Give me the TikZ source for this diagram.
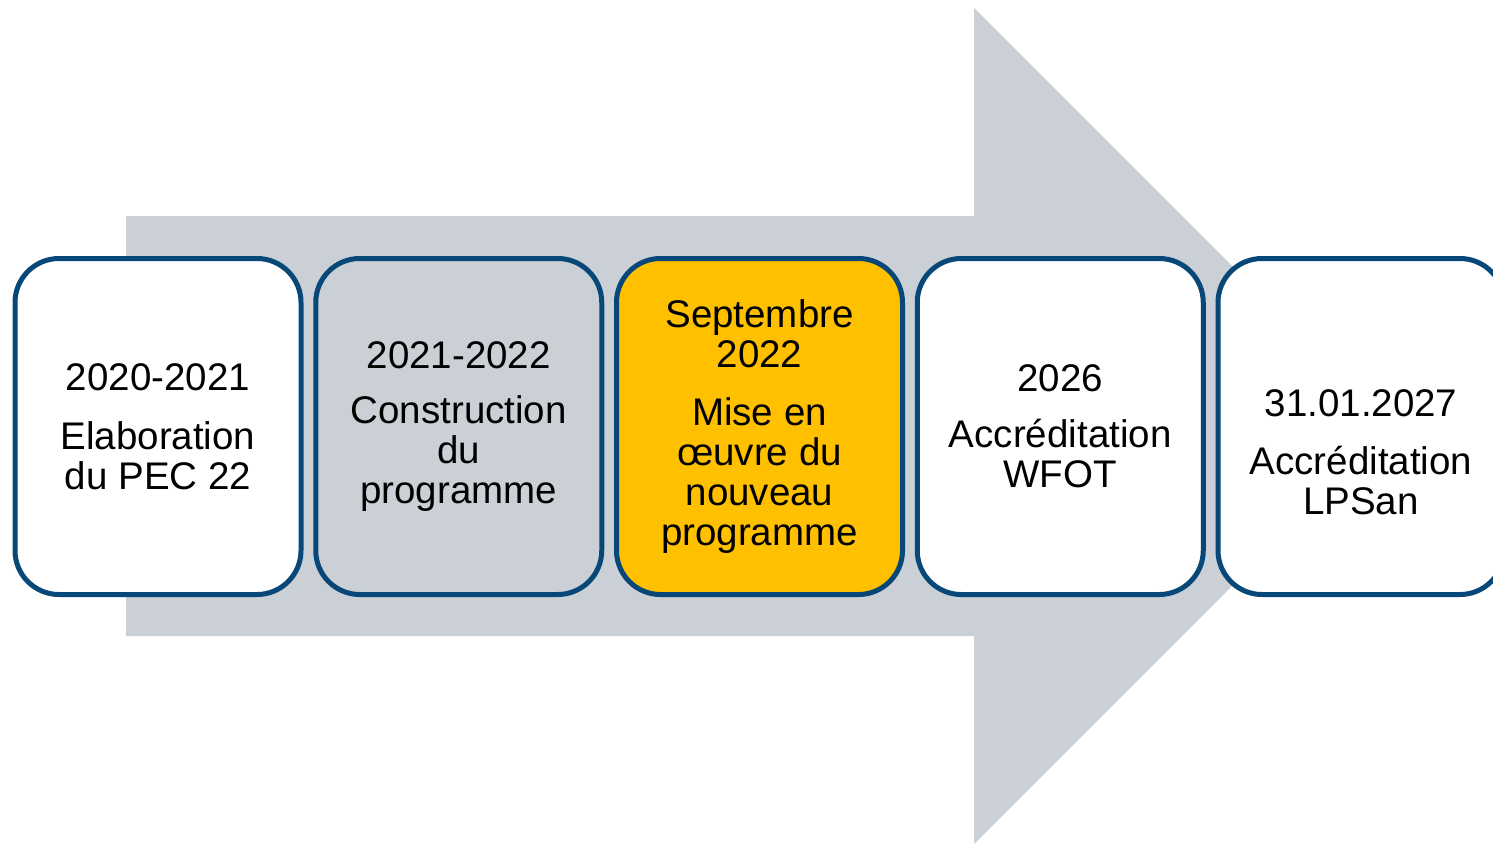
\documentclass[tikz,border=0pt]{standalone}
\usepackage{fontspec}
\setmainfont{Liberation Sans}
\usepackage{xcolor}
\usetikzlibrary{
    positioning
}
\definecolor{arrowgrey}{RGB}{203,207,214}
\definecolor{frameblue}{RGB}{8,72,120}
\definecolor{phaseyellow}{RGB}{255,192,0}

\begin{document}
\begin{tikzpicture}[x=1pt,y=-1pt]
                  \useasboundingbox (0,0) rectangle (1493,844);

                  % Define box and text styles:
                  \tikzset{
                        phase/.style={draw=frameblue, line width=5pt, rounded corners=44pt,
                              minimum width=286pt, minimum height=336pt, inner sep=0pt, outer sep=0pt,
                              fill=white, align=center, font=\fontsize{38.5}{40}\selectfont},
                        phasetext/.style={align=center, inner sep=0pt, font=\fontsize{38.5}{40}\selectfont}
                  };

                  % Big grey arrow running behind the phases
                  \fill[arrowgrey] (126,216) -- (974,216) -- (974,8) -- (1392,426)
                        -- (974,844) -- (974,636) -- (126,636) -- cycle;

                  % Phases of the timeline, from left to right
                  \node[phase] (P_1) at (158,426.5) {2020-2021\\[19pt]Elaboration\\du PEC 22};
                  \node[phase, fill=arrowgrey, right=14.75pt of P_1] (P_2) {2021-2022\\[15pt]Construction\\du\\programme};
                  \node[phase, fill=phaseyellow, right=14.75pt of P_2] (P_3) {Septembre\\2022\\[18pt]Mise en\\\oe uvre du\\nouveau\\programme};
                  \node[phase, right=14.75pt of P_3] (P_4) {2026\\[16pt]Accréditation\\WFOT};
                  \node[phase, right=14.75pt of P_4] (P_5) {};

                  % Text of the last phase sits a little lower
                  \node[phasetext] (P_5_text) at ([yshift=-26pt]P_5.center) {31.01.2027\\[18pt]Accréditation\\LPSan};
\end{tikzpicture}
\end{document}
